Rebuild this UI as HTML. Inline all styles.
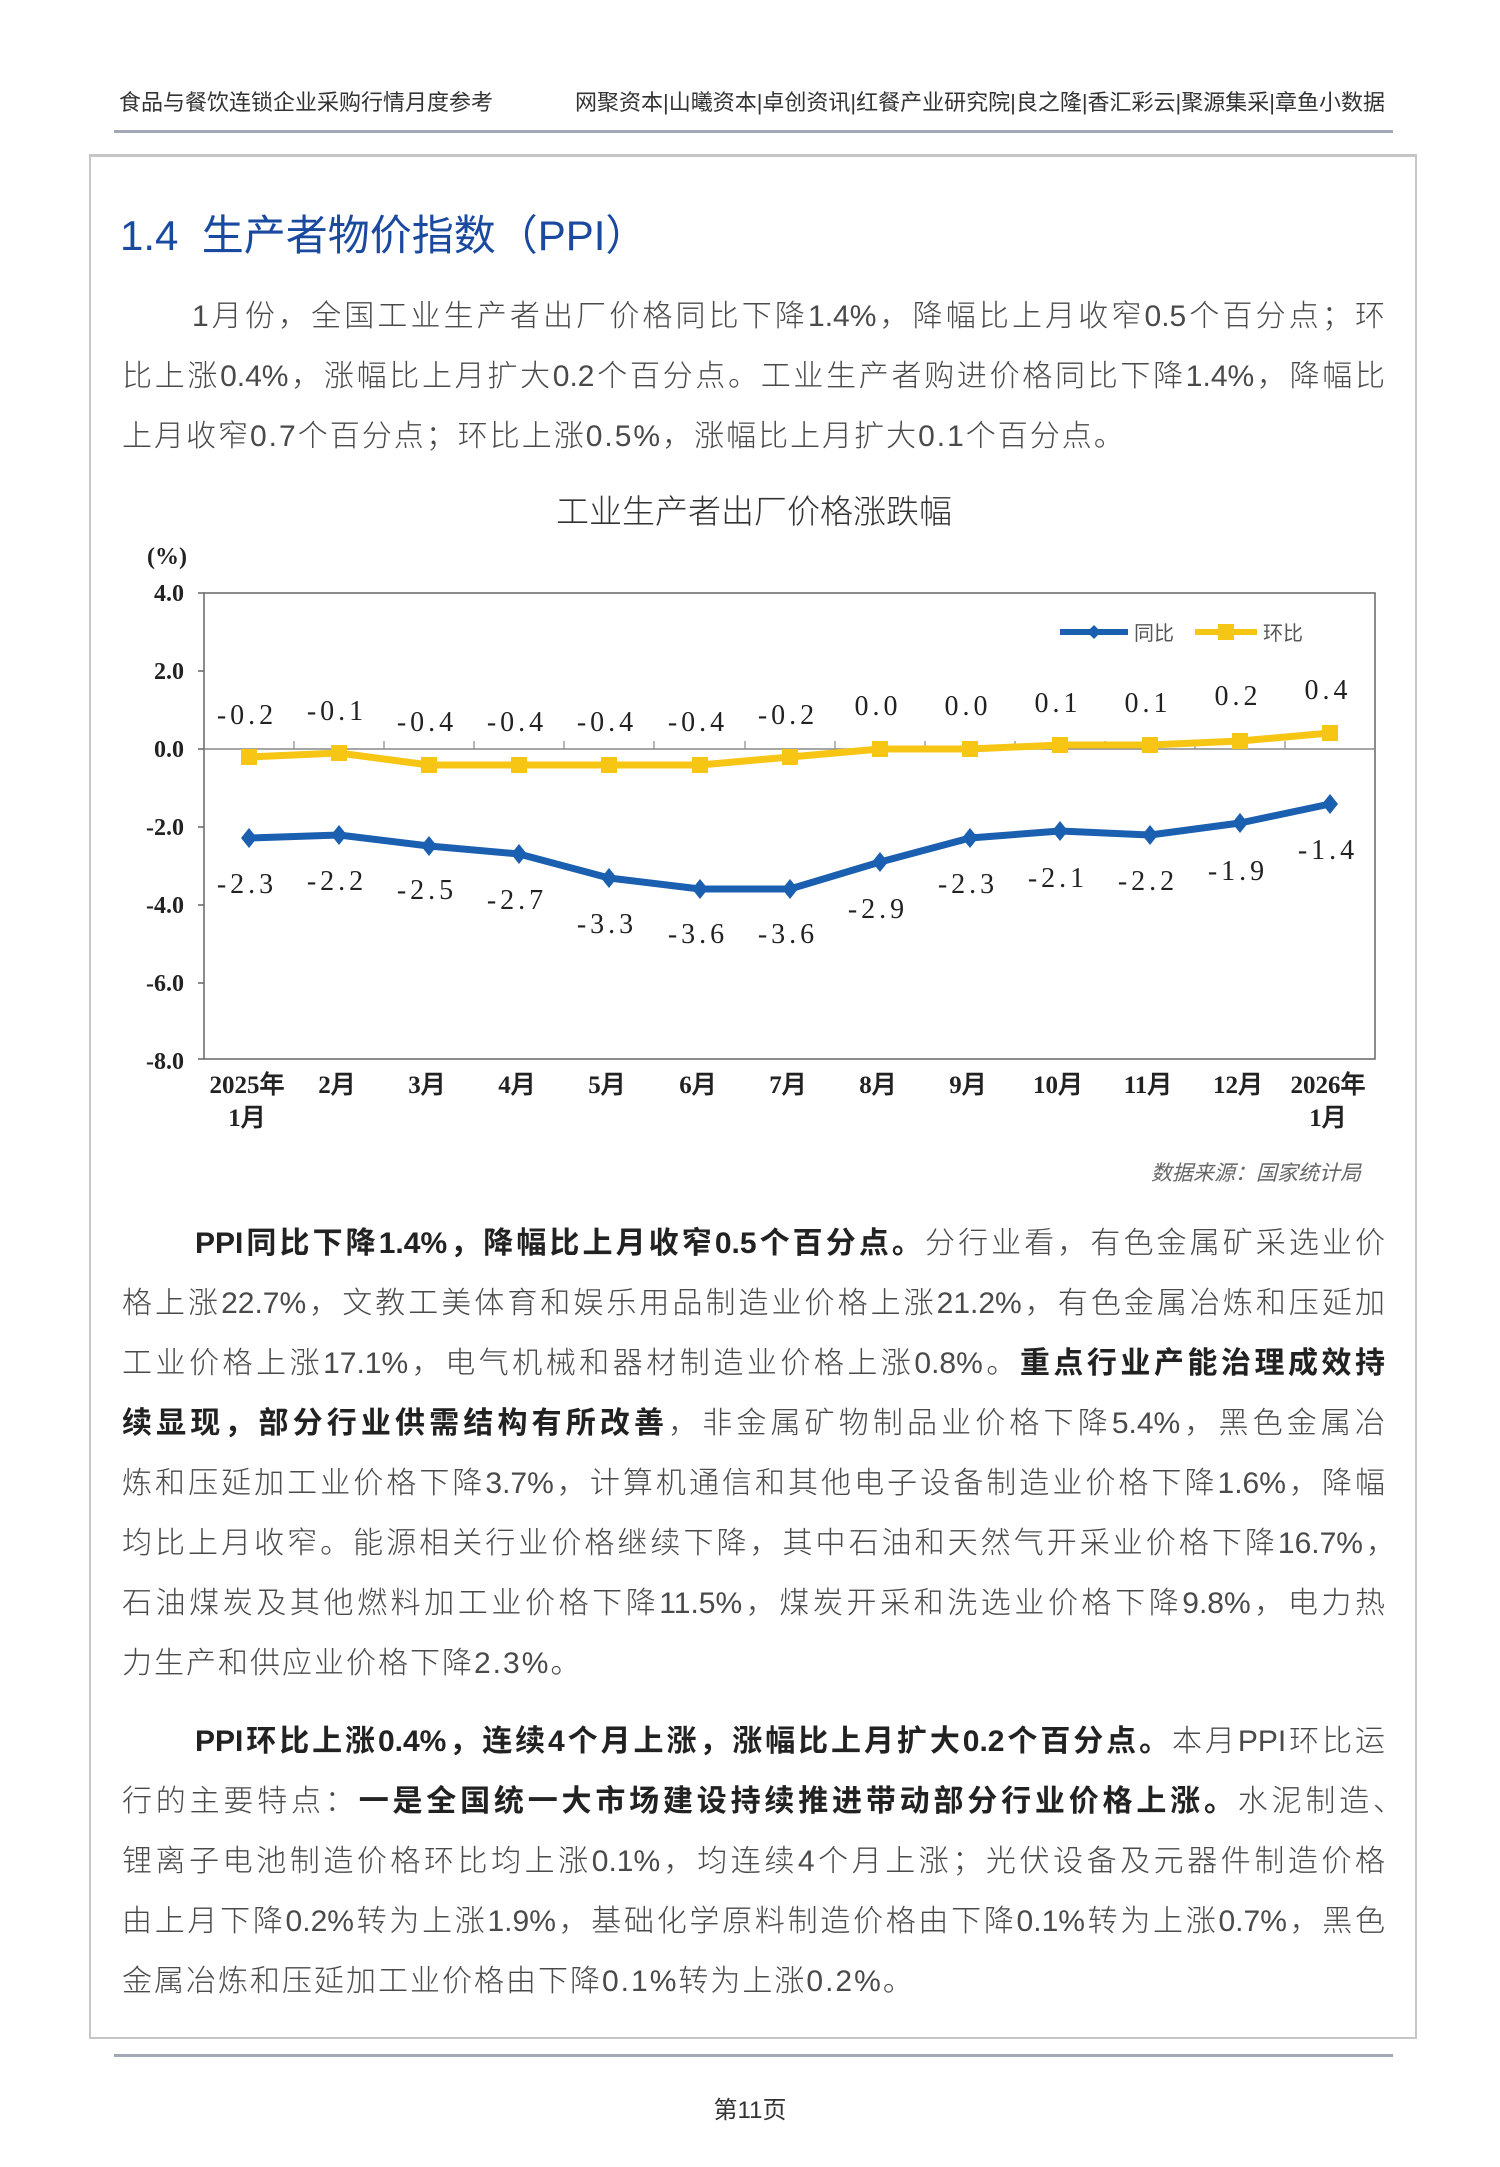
<!DOCTYPE html>
<html><head><meta charset="utf-8"><style>
body{margin:0;width:1500px;height:2167px;background:#fff;position:relative;overflow:hidden;font-family:"Liberation Sans","Noto Sans CJK SC",sans-serif;}
.a{position:absolute;white-space:nowrap;}
.ln{position:absolute;left:122px;width:1263px;height:40px;line-height:40px;font-size:30px;color:#4a4a4a;font-weight:300;white-space:nowrap;}
.j{text-align:justify;text-align-last:justify;}
.ls{letter-spacing:2px;}
b{font-weight:700;color:#222;}
</style></head><body>
<div class="a" style="left:119px;top:85px;font-size:22px;color:#333;">食品与餐饮连锁企业采购行情月度参考</div>
<div class="a" style="left:545px;top:85px;width:840px;font-size:22px;color:#333;text-align:right;">网聚资本|山曦资本|卓创资讯|红餐产业研究院|良之隆|香汇彩云|聚源集采|章鱼小数据</div>
<div class="a" style="left:114px;top:130px;width:1279px;height:3px;background:#a3a8b6;"></div>
<div class="a" style="left:89px;top:154px;width:1324px;height:1880px;border:2px solid #c6c6c6;border-top-width:3px;"></div>
<div class="a" style="left:120px;top:202px;font-size:42px;color:#1a4aa0;">1.4&nbsp; 生产者物价指数（PPI）</div>

<div class="ln j" style="top:297px;left:192px;width:1193px;">1月份，全国工业生产者出厂价格同比下降1.4%，降幅比上月收窄0.5个百分点；环</div>
<div class="ln j" style="top:357px;">比上涨0.4%，涨幅比上月扩大0.2个百分点。工业生产者购进价格同比下降1.4%，降幅比</div>
<div class="ln ls" style="top:417px;">上月收窄0.7个百分点；环比上涨0.5%，涨幅比上月扩大0.1个百分点。</div>

<div class="a" style="left:554px;top:485px;width:400px;text-align:center;font-size:33px;color:#333;font-weight:300;">工业生产者出厂价格涨跌幅</div>

<svg class="a" style="left:0;top:0" width="1500" height="1200" font-family="Liberation Serif, serif">
<text x="167" y="564" font-size="24" font-weight="bold" text-anchor="middle" fill="#222">(%)</text>
<g font-size="24" font-weight="bold" text-anchor="end" fill="#222">
<text x="184" y="601">4.0</text><text x="184" y="679">2.0</text><text x="184" y="757">0.0</text>
<text x="184" y="835">-2.0</text><text x="184" y="913">-4.0</text><text x="184" y="991">-6.0</text><text x="184" y="1069">-8.0</text>
</g>
<rect x="204" y="593" width="1171" height="466" fill="none" stroke="#666" stroke-width="1.5"/>
<g stroke="#666" stroke-width="1.5"><line x1="198" y1="593" x2="204" y2="593"/><line x1="198" y1="671" x2="204" y2="671"/><line x1="198" y1="749" x2="204" y2="749"/><line x1="198" y1="827" x2="204" y2="827"/><line x1="198" y1="905" x2="204" y2="905"/><line x1="198" y1="983" x2="204" y2="983"/><line x1="198" y1="1059" x2="204" y2="1059"/></g>
<line x1="204" y1="749" x2="1375" y2="749" stroke="#888" stroke-width="1.5"/>
<g stroke="#888" stroke-width="1.2">
<line x1="294" y1="741" x2="294" y2="749"/><line x1="384" y1="741" x2="384" y2="749"/><line x1="474" y1="741" x2="474" y2="749"/><line x1="564" y1="741" x2="564" y2="749"/><line x1="654" y1="741" x2="654" y2="749"/><line x1="745" y1="741" x2="745" y2="749"/><line x1="835" y1="741" x2="835" y2="749"/><line x1="925" y1="741" x2="925" y2="749"/><line x1="1015" y1="741" x2="1015" y2="749"/><line x1="1105" y1="741" x2="1105" y2="749"/><line x1="1195" y1="741" x2="1195" y2="749"/><line x1="1285" y1="741" x2="1285" y2="749"/>
</g>
<polyline fill="none" stroke="#f7c513" stroke-width="7" stroke-linejoin="round" points="249,757 339,753 429,765 519,765 609,765 700,765 790,757 880,749 970,749 1060,745 1150,745 1240,741 1330,733"/>
<g fill="#f7c513">
<rect x="241" y="749" width="16" height="16"/><rect x="331" y="745" width="16" height="16"/><rect x="421" y="757" width="16" height="16"/><rect x="511" y="757" width="16" height="16"/><rect x="601" y="757" width="16" height="16"/><rect x="692" y="757" width="16" height="16"/><rect x="782" y="749" width="16" height="16"/><rect x="872" y="741" width="16" height="16"/><rect x="962" y="741" width="16" height="16"/><rect x="1052" y="737" width="16" height="16"/><rect x="1142" y="737" width="16" height="16"/><rect x="1232" y="733" width="16" height="16"/><rect x="1322" y="725" width="16" height="16"/>
</g>
<polyline fill="none" stroke="#1b5fb0" stroke-width="7" stroke-linejoin="round" points="249,838 339,835 429,846 519,854 609,878 700,889 790,889 880,862 970,838 1060,831 1150,835 1240,823 1330,804"/>
<g fill="#1b5fb0">
<path d="M249,828l8,10l-8,10l-8,-10z"/><path d="M339,825l8,10l-8,10l-8,-10z"/><path d="M429,836l8,10l-8,10l-8,-10z"/><path d="M519,844l8,10l-8,10l-8,-10z"/><path d="M609,868l8,10l-8,10l-8,-10z"/><path d="M700,879l8,10l-8,10l-8,-10z"/><path d="M790,879l8,10l-8,10l-8,-10z"/><path d="M880,852l8,10l-8,10l-8,-10z"/><path d="M970,828l8,10l-8,10l-8,-10z"/><path d="M1060,821l8,10l-8,10l-8,-10z"/><path d="M1150,825l8,10l-8,10l-8,-10z"/><path d="M1240,813l8,10l-8,10l-8,-10z"/><path d="M1330,794l8,10l-8,10l-8,-10z"/>
</g>
<line x1="1060" y1="632" x2="1128" y2="632" stroke="#1b5fb0" stroke-width="6"/><path d="M1094,625l7,7l-7,7l-7,-7z" fill="#1b5fb0"/>
<text x="1134" y="640" font-size="20" fill="#555" font-family="Noto Sans CJK SC, sans-serif">同比</text>
<line x1="1195" y1="632" x2="1257" y2="632" stroke="#f7c513" stroke-width="6"/><rect x="1218" y="624" width="16" height="16" fill="#f7c513"/>
<text x="1263" y="640" font-size="20" fill="#555" font-family="Noto Sans CJK SC, sans-serif">环比</text>
<g font-size="28" fill="#222" text-anchor="middle" letter-spacing="4">
<text x="247" y="724">-0.2</text><text x="337" y="720">-0.1</text><text x="427" y="731">-0.4</text><text x="517" y="731">-0.4</text><text x="607" y="731">-0.4</text><text x="698" y="731">-0.4</text><text x="788" y="724">-0.2</text><text x="878" y="715">0.0</text><text x="968" y="715">0.0</text><text x="1058" y="712">0.1</text><text x="1148" y="712">0.1</text><text x="1238" y="705">0.2</text><text x="1328" y="699">0.4</text>
<text x="247" y="893">-2.3</text><text x="337" y="890">-2.2</text><text x="427" y="899">-2.5</text><text x="517" y="909">-2.7</text><text x="607" y="933">-3.3</text><text x="698" y="943">-3.6</text><text x="788" y="943">-3.6</text><text x="878" y="918">-2.9</text><text x="968" y="893">-2.3</text><text x="1058" y="887">-2.1</text><text x="1148" y="890">-2.2</text><text x="1238" y="880">-1.9</text><text x="1328" y="859">-1.4</text>
</g>
<g font-size="25" font-weight="bold" fill="#222" text-anchor="middle">
<text x="247" y="1093">2025年</text><text x="247" y="1126">1月</text>
<text x="337" y="1093">2月</text><text x="427" y="1093">3月</text><text x="517" y="1093">4月</text><text x="607" y="1093">5月</text><text x="698" y="1093">6月</text><text x="788" y="1093">7月</text><text x="878" y="1093">8月</text><text x="968" y="1093">9月</text><text x="1058" y="1093">10月</text><text x="1148" y="1093">11月</text><text x="1238" y="1093">12月</text>
<text x="1328" y="1093">2026年</text><text x="1328" y="1126">1月</text>
</g>
<text x="1361" y="1180" font-size="21" fill="#666" font-style="italic" text-anchor="end" font-family="Noto Sans CJK SC, sans-serif">数据来源：国家统计局</text>
</svg>

<div class="ln j" style="top:1224px;left:195px;width:1190px;"><b>PPI同比下降1.4%，降幅比上月收窄0.5个百分点。</b>分行业看，有色金属矿采选业价</div>
<div class="ln j" style="top:1284px;">格上涨22.7%，文教工美体育和娱乐用品制造业价格上涨21.2%，有色金属冶炼和压延加</div>
<div class="ln j" style="top:1344px;">工业价格上涨17.1%，电气机械和器材制造业价格上涨0.8%。<b>重点行业产能治理成效持</b></div>
<div class="ln j" style="top:1404px;"><b>续显现，部分行业供需结构有所改善</b>，非金属矿物制品业价格下降5.4%，黑色金属冶</div>
<div class="ln j" style="top:1464px;">炼和压延加工业价格下降3.7%，计算机通信和其他电子设备制造业价格下降1.6%，降幅</div>
<div class="ln j" style="top:1524px;width:1274px;">均比上月收窄。能源相关行业价格继续下降，其中石油和天然气开采业价格下降16.7%，</div>
<div class="ln j" style="top:1584px;">石油煤炭及其他燃料加工业价格下降11.5%，煤炭开采和洗选业价格下降9.8%，电力热</div>
<div class="ln ls" style="top:1644px;">力生产和供应业价格下降2.3%。</div>

<div class="ln j" style="top:1722px;left:195px;width:1190px;"><b>PPI环比上涨0.4%，连续4个月上涨，涨幅比上月扩大0.2个百分点。</b>本月PPI环比运</div>
<div class="ln j" style="top:1782px;width:1281px;">行的主要特点：<b>一是全国统一大市场建设持续推进带动部分行业价格上涨。</b>水泥制造、</div>
<div class="ln j" style="top:1842px;">锂离子电池制造价格环比均上涨0.1%，均连续4个月上涨；光伏设备及元器件制造价格</div>
<div class="ln j" style="top:1902px;">由上月下降0.2%转为上涨1.9%，基础化学原料制造价格由下降0.1%转为上涨0.7%，黑色</div>
<div class="ln ls" style="top:1962px;">金属冶炼和压延加工业价格由下降0.1%转为上涨0.2%。</div>

<div class="a" style="left:114px;top:2054px;width:1279px;height:3px;background:#a3a8b6;"></div>
<div class="a" style="left:0;width:1500px;top:2090px;text-align:center;font-size:24px;color:#333;">第11页</div>
</body></html>
